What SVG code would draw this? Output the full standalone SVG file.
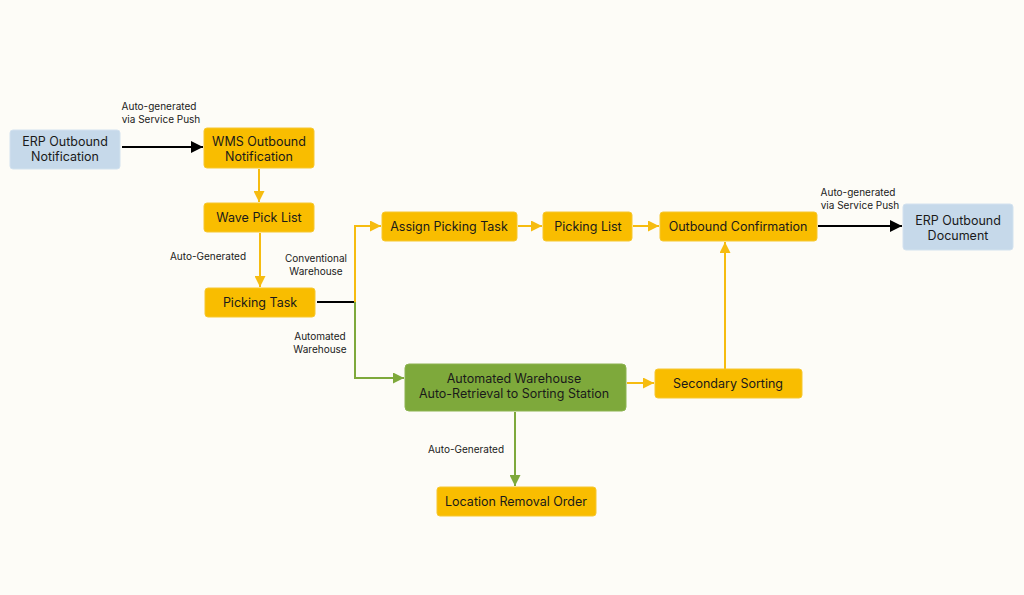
<svg xmlns="http://www.w3.org/2000/svg" width="1024" height="595" viewBox="0 0 1024 595">
<style>
text{font-family:Inter,"Liberation Sans",sans-serif;fill:#1a1a1a;text-anchor:middle}
.n{font-size:12.5px}
.l{font-size:10px}
.y{fill:#f9bd00;stroke:#f6c730;stroke-width:1}
.b{fill:#c6d9ea;stroke:#d3e2ef;stroke-width:1}
.g{fill:#7ea93b;stroke:#8cb350;stroke-width:1}
.cy{stroke:#f6bc10;stroke-width:2;fill:none}
.cg{stroke:#7ea93b;stroke-width:2;fill:none}
.ck{stroke:#000;stroke-width:2;fill:none}
</style>
<defs>
<marker id="ay" viewBox="0 0 10 10" refX="10" refY="5" markerWidth="5.5" markerHeight="5.5" orient="auto" markerUnits="strokeWidth"><path d="M0,0L10,5L0,10z" fill="#f6bc10"/></marker>
<marker id="ag" viewBox="0 0 10 10" refX="10" refY="5" markerWidth="5.5" markerHeight="5.5" orient="auto" markerUnits="strokeWidth"><path d="M0,0L10,5L0,10z" fill="#7ea93b"/></marker>
<marker id="ak" viewBox="0 0 10 10" refX="10" refY="5" markerWidth="6" markerHeight="6" orient="auto" markerUnits="strokeWidth"><path d="M0,0L10,5L0,10z" fill="#000"/></marker>
</defs>
<rect width="1024" height="595" fill="#fdfcf7"/>
<g id="connectors">
<path class="ck" d="M122,147H203" marker-end="url(#ak)"/>
<path class="cy" d="M259,169V202" marker-end="url(#ay)"/>
<path class="cy" d="M260,233V287" marker-end="url(#ay)"/>
<path class="ck" d="M317,302H355"/>
<path class="cy" d="M355,302V226H381" marker-end="url(#ay)"/>
<path class="cg" d="M355,302V378H404" marker-end="url(#ag)"/>
<path class="cy" d="M518,226H542" marker-end="url(#ay)"/>
<path class="cy" d="M633,226H659" marker-end="url(#ay)"/>
<path class="ck" d="M818,226H902" marker-end="url(#ak)"/>
<path class="cy" d="M627,383H654" marker-end="url(#ay)"/>
<path class="cy" d="M725,369V242" marker-end="url(#ay)"/>
<path class="cg" d="M515,412V486" marker-end="url(#ag)"/>
<text class="l" x="159" y="110">Auto-generated</text>
<text class="l" x="161" y="123">via Service Push</text>
<text class="l" x="208" y="260">Auto-Generated</text>
<text class="l" x="316" y="262">Conventional</text>
<text class="l" x="316" y="275">Warehouse</text>
<text class="l" x="320" y="340">Automated</text>
<text class="l" x="320" y="353">Warehouse</text>
<text class="l" x="858" y="196">Auto-generated</text>
<text class="l" x="860" y="209">via Service Push</text>
<text class="l" x="466" y="453">Auto-Generated</text>
</g>
<g id="erp1"><rect class="b" x="10" y="130" width="110" height="39" rx="3"/><text class="n" x="65" y="146">ERP Outbound</text><text class="n" x="65" y="161">Notification</text></g>
<g id="wms"><rect class="y" x="204" y="128" width="110" height="40" rx="3"/><text class="n" x="259" y="146">WMS Outbound</text><text class="n" x="259" y="161">Notification</text></g>
<g id="wave"><rect class="y" x="204" y="203" width="110" height="29" rx="3"/><text class="n" x="259" y="222">Wave Pick List</text></g>
<g id="pickingtask"><rect class="y" x="205" y="288" width="110" height="29" rx="3"/><text class="n" x="260" y="307">Picking Task</text></g>
<g id="assign"><rect class="y" x="382" y="212" width="135" height="29" rx="3"/><text class="n" x="449" y="231">Assign Picking Task</text></g>
<g id="pickinglist"><rect class="y" x="543" y="212" width="89" height="29" rx="3"/><text class="n" x="588" y="231">Picking List</text></g>
<g id="confirm"><rect class="y" x="660" y="212" width="157" height="29" rx="3"/><text class="n" x="738" y="231">Outbound Confirmation</text></g>
<g id="erp2"><rect class="b" x="903" y="204" width="110" height="46" rx="3"/><text class="n" x="958" y="225">ERP Outbound</text><text class="n" x="958" y="240">Document</text></g>
<g id="auto"><rect class="g" x="405" y="364" width="221" height="47" rx="4"/><text class="n" x="514" y="383">Automated Warehouse</text><text class="n" x="514" y="398">Auto-Retrieval to Sorting Station</text></g>
<g id="secondary"><rect class="y" x="655" y="369" width="147" height="29" rx="3"/><text class="n" x="728" y="388">Secondary Sorting</text></g>
<g id="removal"><rect class="y" x="437" y="487" width="159" height="29" rx="3"/><text class="n" x="516" y="506">Location Removal Order</text></g>
</svg>
